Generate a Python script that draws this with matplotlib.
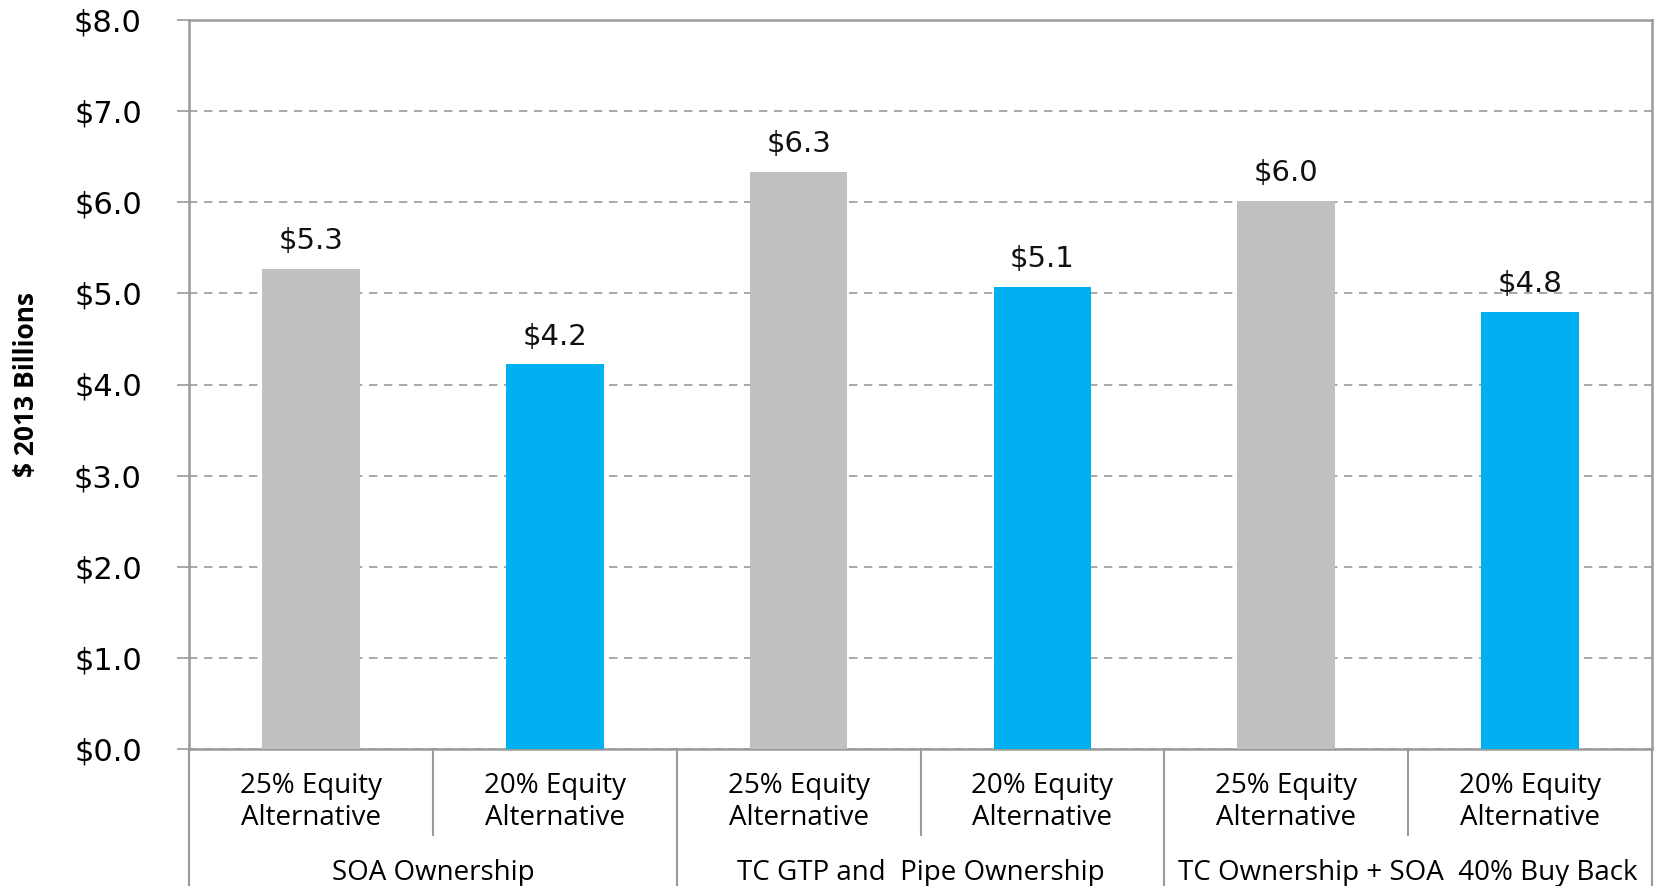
import matplotlib
matplotlib.use('Agg')
import matplotlib.pyplot as plt
from matplotlib.transforms import blended_transform_factory

# data
groups = ['SOA Ownership', 'TC GTP and  Pipe Ownership', 'TC Ownership + SOA  40% Buy Back']
alternatives = ['25% Equity\nAlternative', '20% Equity\nAlternative']
values = [5.27, 4.22, 6.33, 5.07, 6.01, 4.80]
value_labels = ['$5.3', '$4.2', '$6.3', '$5.1', '$6.0', '$4.8']
bar_colors = ['#BFC0BF', '#00B0F0']

W, H = 1657, 886
fig = plt.figure(figsize=(W / 100, H / 100), dpi=100)
ax = fig.add_axes([189 / W, 137 / H, 1463 / W, 729 / H])

spine_col = '#9A9A9A'
x = [i + 0.5 for i in range(len(values))]
cols = [bar_colors[i % 2] for i in range(len(values))]
bars = ax.bar(x, values, width=0.4, color=cols, zorder=3)

for rect, lab in zip(bars, value_labels):
    ax.annotate(lab, (rect.get_x() + rect.get_width() / 2, rect.get_height()),
                xytext=(0, 10), textcoords='offset points', ha='center', va='bottom',
                fontsize=21, family='DejaVu Sans', color='#111111')

ax.set_xlim(0, len(values))
ax.set_ylim(0, 8)
ax.set_yticks(range(9))
ax.set_yticklabels(['$%.1f' % v for v in range(9)], fontsize=22, family='DejaVu Sans')
ax.tick_params(axis='y', direction='out', length=9, width=1.2, color=spine_col, pad=25)
ax.set_xticks([])
ax.grid(axis='y', linestyle=(0, (5, 4)), color='#9A9A9A', linewidth=1.2, zorder=0)
for s in ax.spines.values():
    s.set_color(spine_col)
    s.set_linewidth(1.8)

ax.set_ylabel('$ 2013 Billions', fontsize=19, fontweight='bold', family='Open Sans')
ax.yaxis.set_label_coords(-0.102, 0.5)

# two-level category axis below the plot
tr = blended_transform_factory(ax.transData, ax.transAxes)
for b in range(len(values) + 1):
    bottom = -0.118 if b % 2 else -0.19
    ax.plot([b, b], [0, bottom], transform=tr, color=spine_col, lw=1.5, clip_on=False)
for i, xc in enumerate(x):
    ax.text(xc, -0.073, alternatives[i % 2], transform=tr, ha='center', va='center',
            fontsize=20, family='Open Sans', linespacing=1.2)
for g, name in enumerate(groups):
    ax.text(2 * g + 1, -0.170, name, transform=tr, ha='center', va='center',
            fontsize=20, family='Open Sans')

fig.savefig('out.png', dpi=100)
